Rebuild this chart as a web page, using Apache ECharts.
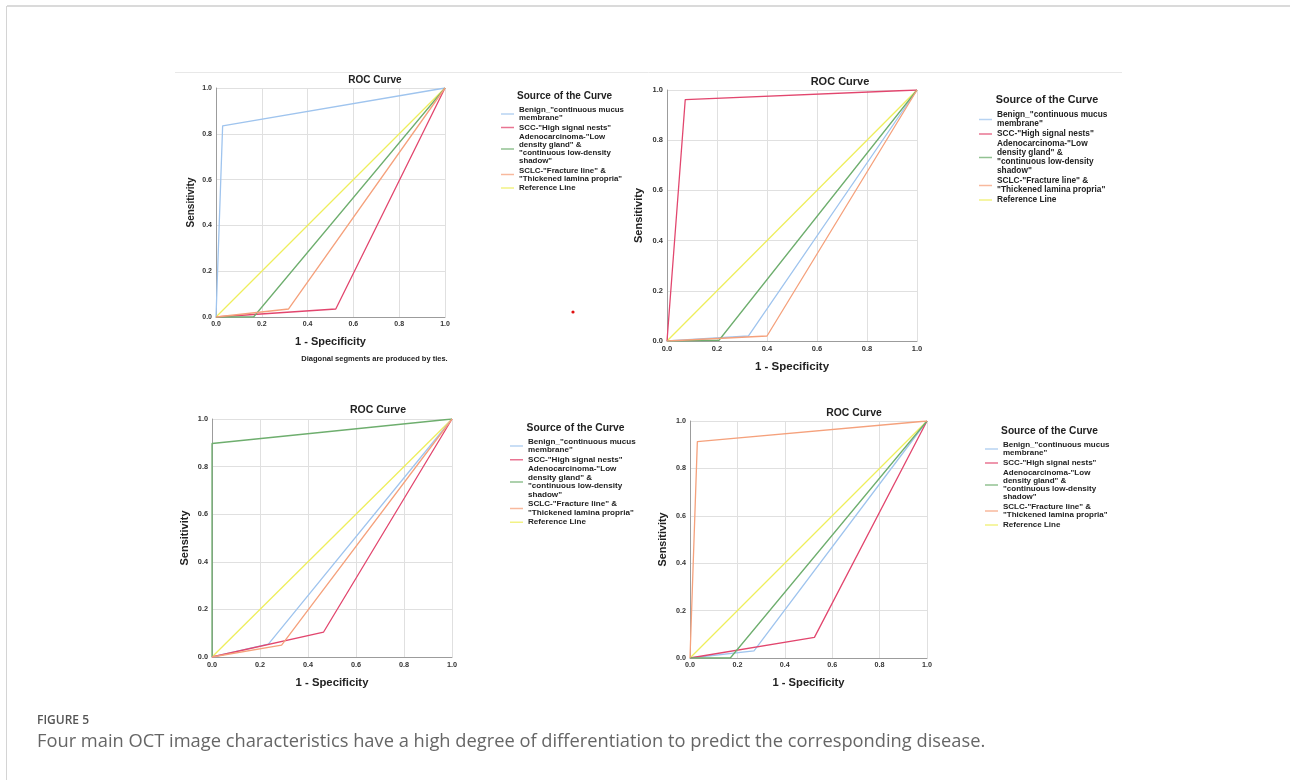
<!DOCTYPE html>
<html>
<head>
<meta charset="utf-8">
<script src="https://cdn.jsdelivr.net/npm/echarts@6/dist/echarts.min.js"></script>
<style>
html,body{margin:0;padding:0;background:#fff;}
#chart{width:1290px;height:780px;}
</style>
</head>
<body>
<div id="chart"></div>
<script>
// ---------- data (1 - specificity, sensitivity) ----------
const seriesNames = [
  'Benign_"continuous mucus membrane"',
  'SCC-"High signal nests"',
  'Adenocarcinoma-"Low density gland" & "continuous low-density shadow"',
  'SCLC-"Fracture line" & "Thickened lamina propria"',
  'Reference Line'
];
const legendLabels = [
  'Benign_"continuous mucus\nmembrane"',
  'SCC-"High signal nests"',
  'Adenocarcinoma-"Low\ndensity gland" &\n"continuous low-density\nshadow"',
  'SCLC-"Fracture line" &\n"Thickened lamina propria"',
  'Reference Line'
];
const tickValues = [0, 0.2, 0.4, 0.6, 0.8, 1.0];

// panel A (top left)
const benignA = [[0,0],[0.029,0.835],[1,1]];
const sccA    = [[0,0],[0.523,0.035],[1,1]];
const adenoA  = [[0,0],[0.164,0],[1,1]];
const sclcA   = [[0,0],[0.317,0.035],[1,1]];
// panel B (top right)
const benignB = [[0,0],[0.326,0.02],[1,1]];
const sccB    = [[0,0],[0.073,0.962],[1,1]];
const adenoB  = [[0,0],[0.208,0.003],[1,1]];
const sclcB   = [[0,0],[0.4,0.02],[1,1]];
// panel C (bottom left)
const benignC = [[0,0],[0.235,0.054],[1,1]];
const sccC    = [[0,0],[0.465,0.105],[1,1]];
const adenoC  = [[0,0],[0,0.897],[1,1]];
const sclcC   = [[0,0],[0.29,0.05],[1,1]];
// panel D (bottom right)
const benignD = [[0,0],[0.27,0.03],[1,1]];
const sccD    = [[0,0],[0.525,0.087],[1,1]];
const adenoD  = [[0,0],[0.17,0],[1,1]];
const sclcD   = [[0,0],[0.031,0.913],[1,1]];
// diagonal reference
const referenceLine = [[0,0],[1,1]];

const panelData = [
  [benignA, sccA, adenoA, sclcA, referenceLine],
  [benignB, sccB, adenoB, sclcB, referenceLine],
  [benignC, sccC, adenoC, sclcC, referenceLine],
  [benignD, sccD, adenoD, sclcD, referenceLine]
];

// ---------- styling / layout ----------
const FONT = '"Liberation Sans", Arial, sans-serif';
const colors = ['#9fc4ee', '#e2466e', '#6eae6e', '#f5a17c', '#eeee5c'];

const grids = [
  {left:216, top:88,  width:229, height:229},
  {left:667, top:90,  width:250, height:251},
  {left:212, top:419, width:240, height:238},
  {left:690, top:421, width:237, height:237}
];
const labelSize = [7, 7.5, 7.3, 7.2];
const xNameCfg = [{size:11, gap:19}, {size:11.5, gap:20}, {size:11.3, gap:20}, {size:11.2, gap:19}];
const yNameCfg = [{size:10, gap:20}, {size:11, gap:23}, {size:11, gap:22}, {size:10.8, gap:21}];
const legendCfg = [
  {left:501, top:106,   size:7.9, lh:8,   gap:1.5},
  {left:979, top:110.5, size:8.3, lh:9,   gap:1},
  {left:510, top:437.5, size:8.1, lh:8.5, gap:1},
  {left:985, top:441,   size:8.0, lh:8,   gap:2}
];
const titlePos = [
  {x:375, y:80,  size:10},
  {x:840, y:82,  size:11},
  {x:378, y:410, size:10.5},
  {x:854, y:413, size:10.4}
];
const legendTitlePos = [
  {x:564.5, y:96,  size:10},
  {x:1047,  y:100, size:10.8},
  {x:575.5, y:428, size:10.3},
  {x:1049.5,y:431, size:10.2}
];

const xAxes = [], yAxes = [], series = [], legends = [];
grids.forEach((g, i) => {
  const common = {
    gridIndex: i, type: 'value', min: 0, max: 1, interval: 0.2,
    axisLine: {show: true, onZero: false, lineStyle: {color: '#9c9c9c', width: 1}},
    axisTick: {show: false},
    splitLine: {show: true, lineStyle: {color: '#e0e0e0', width: 1}},
    axisLabel: {
      formatter: v => v.toFixed(1), fontSize: labelSize[i], fontWeight: 'bold',
      color: '#333', fontFamily: FONT, margin: 4
    }
  };
  xAxes.push(Object.assign({}, common, {
    name: '1 - Specificity', nameLocation: 'middle', nameGap: xNameCfg[i].gap,
    nameTextStyle: {fontSize: xNameCfg[i].size, fontWeight: 'bold', color: '#222', fontFamily: FONT}
  }));
  yAxes.push(Object.assign({}, common, {
    name: 'Sensitivity', nameLocation: 'middle', nameGap: yNameCfg[i].gap, nameRotate: 90,
    nameTextStyle: {fontSize: yNameCfg[i].size, fontWeight: 'bold', color: '#222', fontFamily: FONT}
  }));
  panelData[i].forEach((pts, k) => {
    series.push({
      type: 'line', name: seriesNames[k], xAxisIndex: i, yAxisIndex: i,
      data: pts, symbol: 'none', showSymbol: false, silent: true,
      lineStyle: {color: colors[k], width: 1.3},
      itemStyle: {color: colors[k]},
      z: k === 4 ? 2 : 3
    });
  });
  const lc = legendCfg[i];
  legends.push({
    orient: 'vertical', left: lc.left, top: lc.top, padding: 0,
    itemGap: lc.gap, itemWidth: 13, itemHeight: 1.5, icon: 'rect',
    selectedMode: false,
    data: seriesNames.map((n, k) => ({
      name: n,
      itemStyle: {color: colors[k], borderWidth: 0, borderColor: colors[k], opacity: 0.75}
    })),
    formatter: name => legendLabels[seriesNames.indexOf(name)],
    itemStyle: {borderWidth: 0},
    textStyle: {fontSize: lc.size, lineHeight: lc.lh, fontWeight: 'bold', color: '#222', fontFamily: FONT}
  });
});

function txt(x, y, text, font, fill, align) {
  return {
    type: 'text', x: x, y: y, silent: true,
    style: {text: text, font: font, fill: fill,
      textAlign: align || 'center', align: align || 'center',
      textVerticalAlign: 'middle', verticalAlign: 'middle'}
  };
}

const graphics = [
  {type: 'line', silent: true, shape: {x1: 7, y1: 6, x2: 1290, y2: 6}, style: {stroke: '#dadada', lineWidth: 2}},
  {type: 'line', silent: true, shape: {x1: 6.5, y1: 6, x2: 6.5, y2: 780}, style: {stroke: '#d4d4d4', lineWidth: 1}},
  {type: 'line', silent: true, shape: {x1: 175, y1: 72.5, x2: 1122, y2: 72.5}, style: {stroke: '#e8e8e8', lineWidth: 1}},
  {type: 'circle', silent: true, shape: {cx: 573, cy: 312, r: 1.6}, style: {fill: '#e01010'}}
];
titlePos.forEach(t => graphics.push(txt(t.x, t.y, 'ROC Curve', 'bold ' + t.size + 'px ' + FONT, '#222')));
legendTitlePos.forEach(t => graphics.push(txt(t.x, t.y, 'Source of the Curve', 'bold ' + t.size + 'px ' + FONT, '#222')));
graphics.push(txt(374.5, 359, 'Diagonal segments are produced by ties.', 'bold 7.5px ' + FONT, '#222'));
graphics.push(txt(37, 721, 'FIGURE 5', '600 12px "Open Sans", sans-serif', '#555', 'left'));
graphics.push(txt(37, 742, 'Four main OCT image characteristics have a high degree of differentiation to predict the corresponding disease.', '18.3px "Open Sans", sans-serif', '#666', 'left'));

const chart = echarts.init(document.getElementById('chart'), null, {renderer: 'canvas'});
chart.setOption({
  animation: false,
  backgroundColor: '#ffffff',
  grid: grids,
  xAxis: xAxes,
  yAxis: yAxes,
  legend: legends,
  series: series,
  graphic: graphics
});
</script>
</body>
</html>
